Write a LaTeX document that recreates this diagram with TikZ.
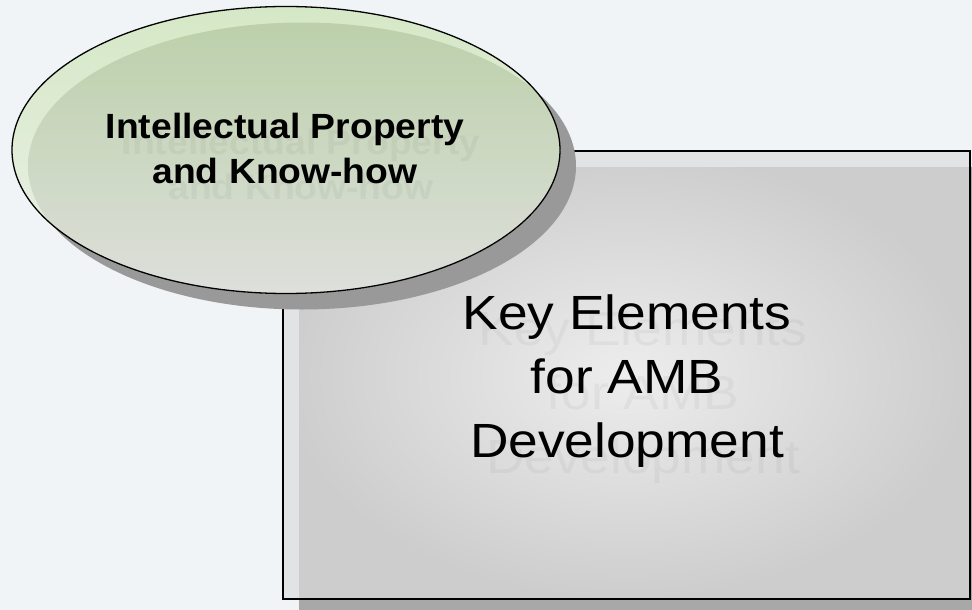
\documentclass[tikz,border=0pt]{standalone}
\usepackage{fontspec}
\setmainfont{Liberation Sans}
\newfontfamily\ovalfont[FakeStretch=1.065]{Liberation Sans}
\newfontfamily\boxfont[FakeStretch=1.11]{Liberation Sans}
\usepackage{xcolor}
\usepackage{tikz}
\usetikzlibrary{positioning, shapes.geometric, shadows, calc}

\definecolor{pagebg}{HTML}{F0F4F7}
\definecolor{bandtop}{HTML}{D4E8C3}
\definecolor{bandbottom}{HTML}{ECF1E8}
\definecolor{ovaltop}{HTML}{BFD5AC}
\definecolor{ovalbottom}{HTML}{E6E6E4}
\definecolor{boxband}{HTML}{E2E3E5}
\definecolor{boxcentre}{HTML}{EDEDED}
\definecolor{boxedge}{HTML}{CDCDCD}
\definecolor{ovalshadow}{HTML}{999999}
\definecolor{boxshadow}{HTML}{A8A8A8}

\begin{document}
\begin{tikzpicture}[
    x=1pt, y=1pt,
    ovalbox/.style={
        ellipse,
        draw=black,
        line width=1.3pt,
        minimum width=548pt,
        minimum height=287pt,
        inner sep=0pt,
        drop shadow={shadow xshift=16pt, shadow yshift=-16pt, fill=ovalshadow, opacity=1},
        path picture={
            \begin{scope}[transparency group, opacity=0.93]
            \shade[top color=bandtop, bottom color=bandbottom]
                (path picture bounding box.south west) rectangle (path picture bounding box.north east);
            \shade[top color=ovaltop, bottom color=ovalbottom]
                ([shift={(16pt,-16pt)}]path picture bounding box.center) ellipse (274pt and 143.5pt);
            \end{scope}
        }
    },
    keybox/.style={
        rectangle,
        draw=black,
        line width=1.3pt,
        minimum width=687pt,
        minimum height=448pt,
        inner sep=0pt,
        drop shadow={shadow xshift=16pt, shadow yshift=-16pt, fill=boxshadow, opacity=1},
        fill=boxband,
        path picture={
            \shade[inner color=boxcentre, outer color=boxedge]
                ([shift={(16pt,-16pt)}]path picture bounding box.north west) rectangle (path picture bounding box.south east);
        }
    },
    ovaltext/.style={align=center, inner sep=0pt, font=\ovalfont\fontsize{35}{45}\selectfont\bfseries},
    boxtext/.style={align=center, inner sep=0pt, font=\boxfont\fontsize{48}{64}\selectfont},
    ghost/.style={text opacity=0.04}
]

\useasboundingbox (0,0) rectangle (972,-610);
\fill[pagebg] (0,0) rectangle (972,-610);

% Nodes
\node[keybox] (key) at (626.5,-375) {};
\node[boxtext] (keylabel) at (627,-381) {Key Elements\\for AMB\hspace*{0.25em}\\Development};
\node[boxtext, ghost] (keyghost) at ($(keylabel)+(16,-16)$) {Key Elements\\for AMB\hspace*{0.25em}\\Development};
\node[ovalbox] (ip) at (286,-150) {};
\node[ovaltext] (iplabel) at (285,-148) {Intellectual Property\\and Know-how};
\node[ovaltext, ghost] (ipghost) at ($(iplabel)+(16,-16)$) {Intellectual Property\\and Know-how};

\end{tikzpicture}
\end{document}
